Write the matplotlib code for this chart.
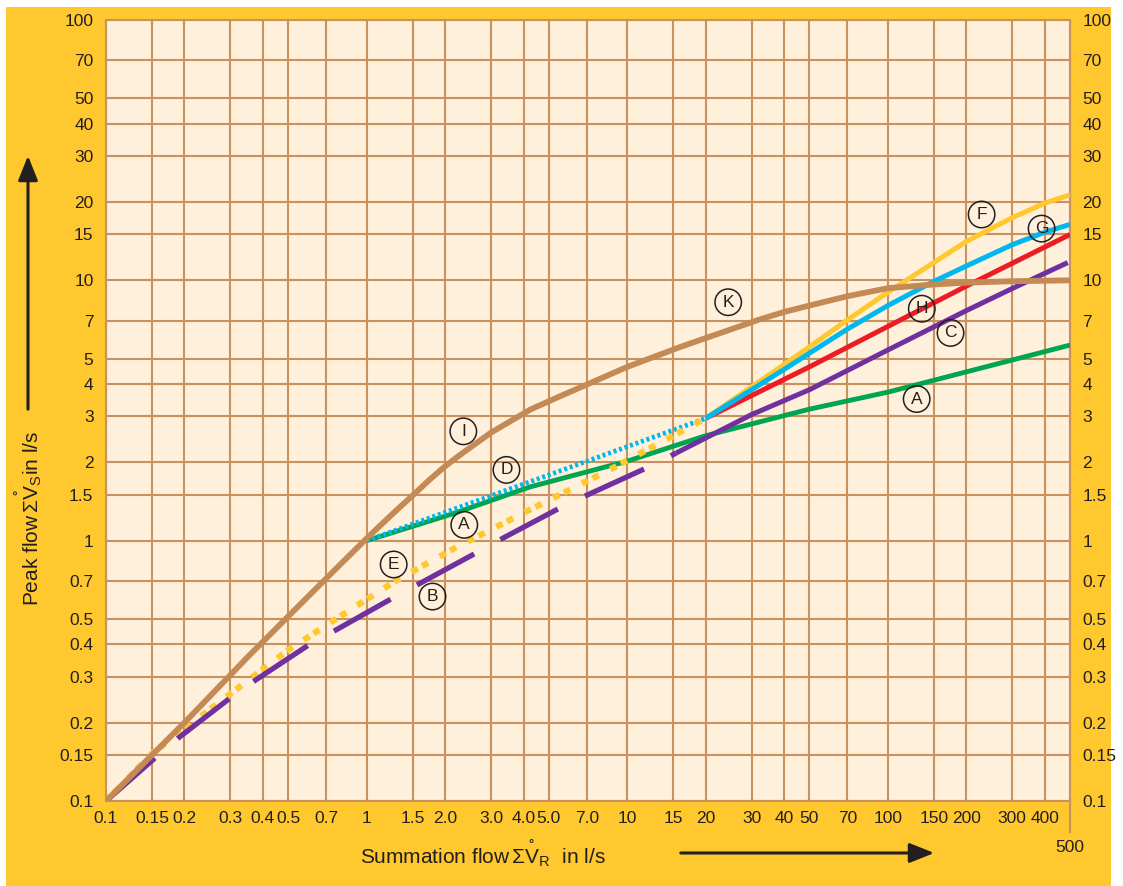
import matplotlib
matplotlib.use('Agg')
import matplotlib.pyplot as plt
from matplotlib.patches import Rectangle, FancyArrowPatch
from matplotlib.ticker import FixedLocator, NullLocator
from matplotlib.transforms import blended_transform_factory

plt.rcParams['font.family'] = ['Liberation Sans', 'DejaVu Sans']
plt.rcParams['mathtext.default'] = 'regular'
plt.rcParams['lines.scale_dashes'] = False

# grid / tick values
x_ticks = [0.1, 0.15, 0.2, 0.3, 0.4, 0.5, 0.7, 1, 1.5, 2, 3, 4, 5, 7, 10, 15, 20,
           30, 40, 50, 70, 100, 150, 200, 300, 400, 500]
x_labels = ['0.1', '0.15', '0.2', '0.3', '0.4', '0.5', '0.7', '1', '1.5', '2.0', '3.0',
            '4.0', '5.0', '7.0', '10', '15', '20', '30', '40', '50', '70', '100', '150',
            '200', '300', '400', '']
y_ticks = [0.1, 0.15, 0.2, 0.3, 0.4, 0.5, 0.7, 1, 1.5, 2, 3, 4, 5, 7, 10, 15, 20,
           30, 40, 50, 70, 100]
y_labels = ['0.1', '0.15', '0.2', '0.3', '0.4', '0.5', '0.7', '1', '1.5', '2', '3', '4',
            '5', '7', '10', '15', '20', '30', '40', '50', '70', '100']

# curve A (green)
a_x = [1, 2.15, 4.25, 10, 20, 50, 100, 200, 500]
a_y = [1, 1.27, 1.61, 2.02, 2.53, 3.2, 3.72, 4.45, 5.64]
# curve B (purple, dashed) and its continuation C
b_x = [0.1, 0.155, 0.19, 0.3, 0.376, 0.605, 0.76, 1.27, 1.6, 2.69, 3.38, 5.63, 7.15, 12.1, 15.4]
b_y = [0.1, 0.147, 0.175, 0.249, 0.292, 0.40, 0.453, 0.605, 0.685, 0.908, 1.03, 1.35, 1.51, 1.92, 2.17]
c_x = [15.4, 30, 50, 100, 200, 300, 490]
c_y = [2.17, 3.05, 3.8, 5.4, 7.65, 9.3, 11.7]
# curve D (cyan, dotted)
d_x = [1, 20]
d_y = [1, 2.95]
# curve E (yellow, dotted)
e_x = [0.1, 0.15, 0.3, 0.5, 0.81, 1.29, 2.15, 4.14, 8.8, 20]
e_y = [0.1, 0.152, 0.258, 0.38, 0.52, 0.70, 0.93, 1.30, 1.90, 2.95]
# curve F (yellow)
f_x = [20, 30, 40, 50, 70, 100, 150, 200, 300, 400, 500]
f_y = [2.95, 3.9, 4.75, 5.55, 7.05, 9.0, 11.7, 14.1, 17.4, 19.8, 21.3]
# curve G (cyan)
g_x = [20, 30, 40, 50, 70, 100, 150, 200, 300, 400, 500]
g_y = [2.95, 3.8, 4.55, 5.25, 6.5, 8.0, 9.9, 11.35, 13.7, 15.3, 16.4]
# curve H (red)
h_x = [20, 50, 100, 200, 500]
h_y = [2.95, 4.65, 6.65, 9.5, 15.0]
# curve I / K (brown)
k_x = [0.1, 0.2, 0.356, 0.684, 1.0, 1.25, 1.5, 1.75, 2.0, 2.29, 2.5, 3.0, 4.25, 5.5, 10,
       16, 20, 32, 40, 50, 70, 100, 150, 200, 300, 500]
k_y = [0.1, 0.2, 0.364, 0.70, 1.02, 1.26, 1.49, 1.72, 1.93, 2.14, 2.28, 2.6, 3.19, 3.58,
       4.65, 5.55, 6.0, 7.06, 7.56, 8.0, 8.69, 9.33, 9.64, 9.8, 9.92, 10.0]

# circled curve letters
tag_text = ['K', 'F', 'G', 'H', 'C', 'A', 'I', 'D', 'A', 'E', 'B']
tag_x = [24.4, 229, 389, 135, 174, 129, 2.35, 3.44, 2.37, 1.27, 1.79]
tag_y = [8.24, 17.9, 15.8, 7.78, 6.28, 3.5, 2.63, 1.87, 1.15, 0.81, 0.61]

YELLOW = '#FFC82E'
FACE = '#FFF0DB'
GRID = '#C8915E'
BROWN = '#C48A55'
CYAN = '#00B7EE'
RED = '#EC1C24'
PURPLE = '#70309F'
GREEN = '#00A550'
INK = '#231F20'

W, H = 1123, 886
fig = plt.figure(figsize=(W / 100, H / 100), dpi=100, facecolor='white')
fig.patches.append(Rectangle((6 / W, 0), (1111 - 6) / W, (H - 7) / H,
                             transform=fig.transFigure, facecolor=YELLOW,
                             edgecolor='none', zorder=-10))

ax = fig.add_axes([106 / W, 1 - 801 / H, (1070 - 106) / W, (801 - 20) / H])
ax.set_xscale('log')
ax.set_yscale('log')
ax.set_xlim(0.1, 500)
ax.set_ylim(0.1, 100)
ax.set_facecolor(FACE)

ax.xaxis.set_major_locator(FixedLocator(x_ticks))
ax.xaxis.set_minor_locator(NullLocator())
ax.set_xticklabels(x_labels)
ax.yaxis.set_major_locator(FixedLocator(y_ticks))
ax.yaxis.set_minor_locator(NullLocator())
ax.set_yticklabels(y_labels)

ax.grid(True, which='major', color=GRID, lw=1.5)
ax.set_axisbelow(True)
for sp in ax.spines.values():
    sp.set_color(GRID)
    sp.set_linewidth(1.5)
ax.tick_params(length=0, labelsize=12.5, labelcolor=INK)
ax.tick_params(axis='x', pad=7)
ax.tick_params(axis='y', pad=9, labelright=True)

# right frame line runs down to the 500 label
trans = blended_transform_factory(ax.transData, ax.transAxes)
ax.plot([500, 500], [0, -0.04], transform=trans, color=GRID, lw=1.5, clip_on=False)
fig.text(1070 / W, 1 - 847 / H, '500', ha='center', va='center', fontsize=12.5, color=INK)

# curves
ax.plot(a_x, a_y, color=GREEN, lw=3.5, solid_capstyle='butt', zorder=3)
ax.plot(d_x, d_y, color=CYAN, lw=3.4, dashes=(2.2, 2.0), dash_capstyle='butt', zorder=3)
ax.plot(e_x, e_y, color=YELLOW, lw=4.5, dashes=(5, 3.6, 5, 9.4), dash_capstyle='butt', zorder=3)
ax.plot(b_x, b_y, color=PURPLE, lw=3.8, dashes=(46.8, 21.6), dash_capstyle='butt', zorder=4)
ax.plot(c_x, c_y, color=PURPLE, lw=3.6, solid_capstyle='butt', zorder=4)
ax.plot(h_x, h_y, color=RED, lw=3.6, solid_capstyle='butt', zorder=4)
ax.plot(f_x, f_y, color=YELLOW, lw=3.6, solid_capstyle='butt', zorder=4)
ax.plot(g_x, g_y, color=CYAN, lw=3.6, solid_capstyle='butt', zorder=5)
ax.plot(k_x, k_y, color=BROWN, lw=4.2, solid_capstyle='butt', zorder=6)

for t, x, y in zip(tag_text, tag_x, tag_y):
    ax.text(x, y, t, ha='center', va='center', fontsize=12.5, color=INK, zorder=7,
            bbox=dict(boxstyle='circle,pad=0.33', fc='none', ec=INK, lw=1.1))

# axis titles with arrows
fig.text(360 / W, 1 - 853 / H, r'Summation flow$\,\Sigma\overset{\circ}{V}_R$  in l/s',
         ha='left', va='center', fontsize=15, color=INK)
fig.text(28 / W, 1 - 518 / H, r'Peak flow$\,\Sigma\overset{\circ}{V}_S$in l/s',
         ha='center', va='center', rotation=90, fontsize=15, color=INK)

fig.patches.append(FancyArrowPatch((678 / W, 1 - 853 / H), (937 / W, 1 - 853 / H),
                                   transform=fig.transFigure,
                                   arrowstyle='-|>,head_length=0.75,head_width=0.3',
                                   mutation_scale=20, color=INK, lw=2.2))
fig.patches.append(FancyArrowPatch((28 / W, 1 - 412 / H), (28 / W, 1 - 153 / H),
                                   transform=fig.transFigure,
                                   arrowstyle='-|>,head_length=0.75,head_width=0.3',
                                   mutation_scale=20, color=INK, lw=2.2))

fig.savefig('out.png', dpi=100, facecolor=fig.get_facecolor())
